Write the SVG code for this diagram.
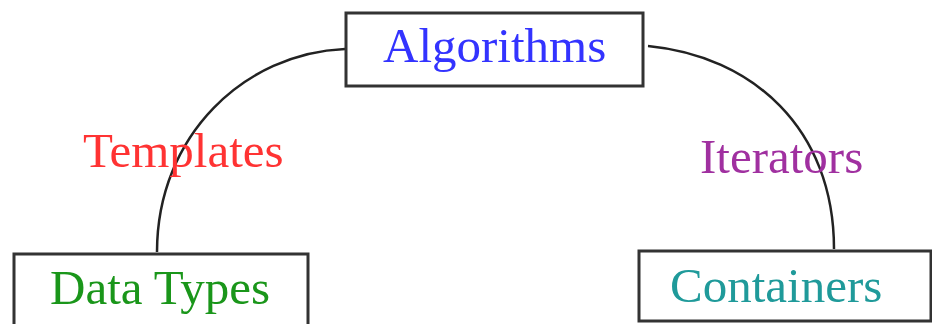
<svg xmlns="http://www.w3.org/2000/svg" width="932" height="324" viewBox="0 0 932 324">
<style>
.box{fill:#fff;stroke:#333;stroke-width:3}
.conn{fill:none;stroke:#222;stroke-width:2.5}
text{font-family:"Liberation Serif","Times New Roman",serif;font-size:49px}
</style>
<rect width="932" height="324" fill="#fff"/>
<g id="connectors">
<path class="conn" d="M345,49 C245,53 157,135 157,252"/>
<path class="conn" d="M648,46 C752,56 834,128 834,249"/>
</g>
<g id="labels">
<text x="83" y="167" fill="#ff3333">Templates</text>
<text x="700" y="173" fill="#a030a0">Iterators</text>
</g>
<g id="algorithms">
<rect class="box" x="346" y="13" width="297" height="73"/>
<text x="383" y="62" fill="#3333ff">Algorithms</text>
</g>
<g id="datatypes">
<rect class="box" x="14" y="254" width="294" height="80"/>
<text x="50" y="304" fill="#1a961a">Data Types</text>
</g>
<g id="containers">
<rect class="box" x="639" y="251" width="292" height="70"/>
<text x="670" y="302" fill="#1f9a9a">Containers</text>
</g>
</svg>
